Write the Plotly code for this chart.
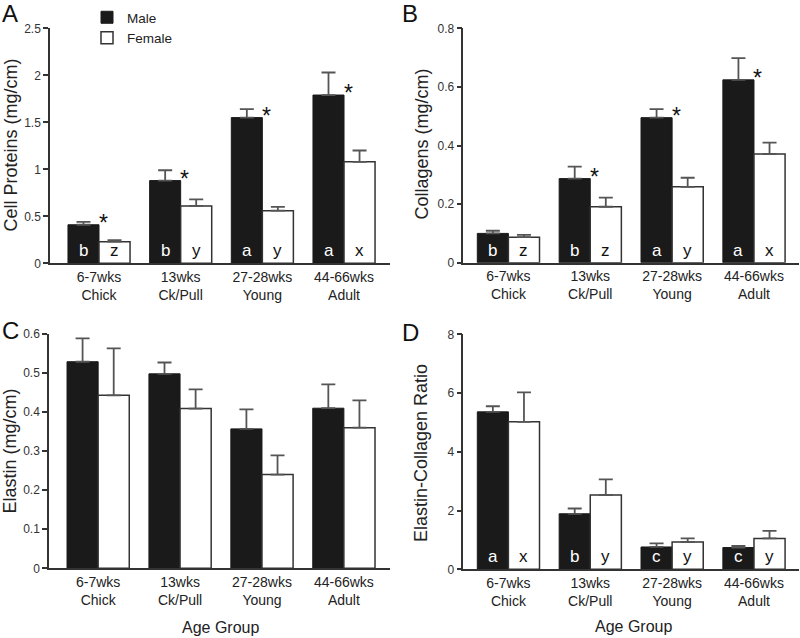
import plotly.graph_objects as go

categories = ["6-7wks<br>Chick", "13wks<br>Ck/Pull", "27-28wks<br>Young", "44-66wks<br>Adult"]

# Panel A: Cell proteins (mg/cm)
prot_male = [0.41, 0.88, 1.55, 1.79]
prot_male_err = [0.03, 0.11, 0.09, 0.24]
prot_female = [0.23, 0.61, 0.56, 1.08]
prot_female_err = [0.015, 0.07, 0.04, 0.12]
prot_male_letters = ["b", "b", "a", "a"]
prot_female_letters = ["z", "y", "y", "x"]
prot_star = [True, True, True, True]

# Panel B: Collagens (mg/cm)
col_male = [0.100, 0.287, 0.495, 0.624]
col_male_err = [0.009, 0.041, 0.029, 0.074]
col_female = [0.087, 0.191, 0.259, 0.371]
col_female_err = [0.008, 0.031, 0.031, 0.039]
col_male_letters = ["b", "b", "a", "a"]
col_female_letters = ["z", "z", "y", "x"]
col_star = [False, True, True, True]

# Panel C: Elastin (mg/cm)
ela_male = [0.529, 0.498, 0.357, 0.410]
ela_male_err = [0.060, 0.029, 0.050, 0.061]
ela_female = [0.443, 0.409, 0.240, 0.360]
ela_female_err = [0.120, 0.049, 0.049, 0.070]

# Panel D: Elastin-Collagen ratio
rat_male = [5.36, 1.89, 0.76, 0.74]
rat_male_err = [0.19, 0.18, 0.12, 0.06]
rat_female = [5.02, 2.53, 0.93, 1.05]
rat_female_err = [1.00, 0.53, 0.12, 0.26]
rat_male_letters = ["a", "b", "c", "c"]
rat_female_letters = ["x", "y", "y", "y"]

FONT = "Liberation Sans, Arial, sans-serif"
W, H = 800, 638
AX = "#333333"

def px_x(a, b):
    return [a / W, b / W]

def px_y(top, bottom):
    return [1 - bottom / H, 1 - top / H]

panels = [
    dict(s="", xd=px_x(50, 390), yd=px_y(28.3, 263.3), xr=[-0.6, 3.563], yr=[0, 2.5],
         tv=[0, 0.5, 1, 1.5, 2, 2.5], tt=["0", "0.5", "1", "1.5", "2", "2.5"],
         title="Cell Proteins (mg/cm)", tx=10, ty=145.5,
         m=prot_male, me=prot_male_err, f=prot_female, fe=prot_female_err,
         ml=prot_male_letters, fl=prot_female_letters, st=prot_star, legend=True),
    dict(s="2", xd=px_x(463.3, 799), yd=px_y(28.3, 262.7), xr=[-0.551, 3.55], yr=[0, 0.8],
         tv=[0, 0.2, 0.4, 0.6, 0.8], tt=["0", "0.2", "0.4", "0.6", "0.8"],
         title="Collagens (mg/cm)", tx=421, ty=144.5,
         m=col_male, me=col_male_err, f=col_female, fe=col_female_err,
         ml=col_male_letters, fl=col_female_letters, st=col_star, legend=False),
    dict(s="3", xd=px_x(49, 390), yd=px_y(334, 568.3), xr=[-0.6, 3.563], yr=[0, 0.6],
         tv=[0, 0.1, 0.2, 0.3, 0.4, 0.5, 0.6], tt=["0", "0.1", "0.2", "0.3", "0.4", "0.5", "0.6"],
         title="Elastin (mg/cm)", tx=10, ty=451.5,
         m=ela_male, me=ela_male_err, f=ela_female, fe=ela_female_err,
         ml=None, fl=None, st=None, legend=False),
    dict(s="4", xd=px_x(463.3, 799), yd=px_y(334.3, 569.3), xr=[-0.551, 3.55], yr=[0, 8],
         tv=[0, 2, 4, 6, 8], tt=["0", "2", "4", "6", "8"],
         title="Elastin-Collagen Ratio", tx=421, ty=453,
         m=rat_male, me=rat_male_err, f=rat_female, fe=rat_female_err,
         ml=rat_male_letters, fl=rat_female_letters, st=None, legend=False),
]

fig = go.Figure()
annotations = []
layout = {}

for p in panels:
    xa = "x" + p["s"]
    ya = "y" + p["s"]
    err_style = dict(type="data", symmetric=False, color="#555555", thickness=1.8, width=7)
    fig.add_trace(go.Bar(
        x=categories, y=p["m"], name="Male", xaxis=xa, yaxis=ya,
        marker=dict(color="#1a1a1a", line=dict(color="#1a1a1a", width=1)),
        error_y=dict(array=p["me"], arrayminus=[0] * 4, **err_style),
        showlegend=p["legend"], offsetgroup="m"))
    fig.add_trace(go.Bar(
        x=categories, y=p["f"], name="Female", xaxis=xa, yaxis=ya,
        marker=dict(color="white", line=dict(color="#333333", width=1.5)),
        error_y=dict(array=p["fe"], arrayminus=[0] * 4, **err_style),
        showlegend=p["legend"], offsetgroup="f"))

    layout["xaxis" + p["s"]] = dict(
        domain=p["xd"], range=p["xr"], anchor=ya, type="category",
        showline=True, linecolor=AX, linewidth=1.5, ticks="", showgrid=False,
        zeroline=False, automargin=False,
        tickfont=dict(family=FONT, size=14, color="#222222"), fixedrange=True)
    layout["yaxis" + p["s"]] = dict(
        domain=p["yd"], range=p["yr"], anchor=xa, automargin=False,
        showline=True, linecolor=AX, linewidth=1.5, ticks="outside", ticklen=5,
        tickwidth=1.5, tickcolor=AX, showgrid=False, zeroline=False,
        tickvals=p["tv"], ticktext=p["tt"],
        tickfont=dict(family=FONT, size=12, color="#333333"))

    annotations.append(dict(
        text=p["title"], x=p["tx"] / W, y=1 - p["ty"] / H, xref="paper", yref="paper",
        textangle=-90, showarrow=False, xanchor="center", yanchor="middle",
        font=dict(family=FONT, size=18, color="#222222")))

    for i, c in enumerate(categories):
        if p["ml"]:
            annotations.append(dict(
                text=p["ml"][i], x=c, y=0, xref=xa, yref=ya, xshift=-15.5, yshift=1,
                showarrow=False, xanchor="center", yanchor="bottom",
                font=dict(family=FONT, size=17, color="white")))
            annotations.append(dict(
                text=p["fl"][i], x=c, y=0, xref=xa, yref=ya, xshift=15.5, yshift=1,
                showarrow=False, xanchor="center", yanchor="bottom",
                font=dict(family=FONT, size=17, color="#111111")))
        if p["st"] and p["st"][i]:
            annotations.append(dict(
                text="*", x=c, y=p["m"][i], xref=xa, yref=ya, xshift=4, yshift=2,
                showarrow=False, xanchor="center", yanchor="middle",
                font=dict(family=FONT, size=23, color="#111111")))

# panel letters
for letter, lx, ly in [("A", 0, -2), ("B", 400, -2), ("C", 0, 315), ("D", 400, 317)]:
    annotations.append(dict(
        text=letter, x=lx / W, y=1 - ly / H, xref="paper", yref="paper",
        showarrow=False, xanchor="left", yanchor="top",
        font=dict(family=FONT, size=24, color="#111111")))

# x-axis titles
for lx, ly in [(220, 627), (633, 626)]:
    annotations.append(dict(
        text="Age Group", x=lx / W, y=1 - ly / H, xref="paper", yref="paper",
        showarrow=False, xanchor="center", yanchor="middle",
        font=dict(family=FONT, size=16, color="#222222")))

fig.update_layout(
    template="none",
    width=W, height=H, margin=dict(l=0, r=0, t=0, b=0, pad=0, autoexpand=False),
    paper_bgcolor="white", plot_bgcolor="white",
    barmode="group", bargap=0.24, bargroupgap=0,
    showlegend=True,
    legend=dict(x=87 / W, y=1 - 2 / H, xanchor="left", yanchor="top",
                bgcolor="rgba(0,0,0,0)", borderwidth=0,
                font=dict(family=FONT, size=13.5, color="#222222"),
                itemwidth=30, tracegroupgap=0, traceorder="normal"),
    annotations=annotations,
    **layout)

fig.write_html("out.html", config={"displayModeBar": False},
               post_script="document.body.style.margin='0';")
